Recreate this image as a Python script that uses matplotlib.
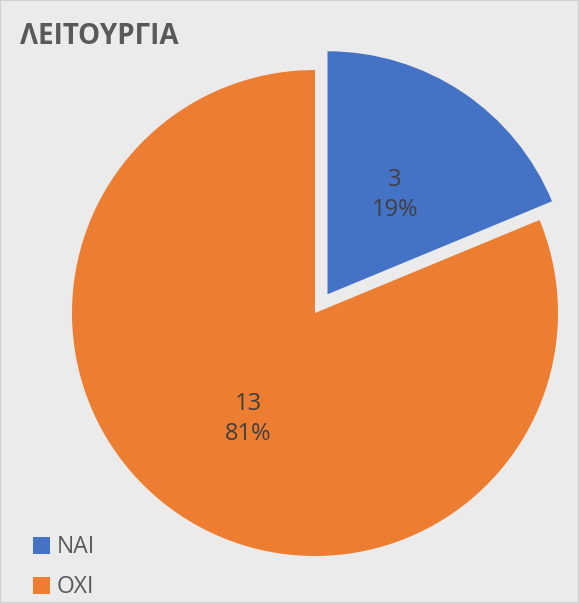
import matplotlib.pyplot as plt

# data
labels = ["ΝΑΙ", "ΟΧΙ"]
counts = [3, 13]
percents = ["19%", "81%"]
colors = ["#4472c4", "#ed7d31"]

plt.rcParams['font.family'] = ['Open Sans', 'DejaVu Sans']

W, H = 579, 603
fig = plt.figure(figsize=(W / 100, H / 100), dpi=100)
fig.patch.set_facecolor("#ebebeb")
ax = fig.add_axes([0, 0, 1, 1])

# explode is in data units here (1 unit = 1 px)
wedges, _ = ax.pie(counts, colors=colors, startangle=90, counterclock=False,
                   center=(315, H - 313), radius=243, explode=[22.5, 0],
                   frame=True, wedgeprops=dict(linewidth=0))
ax.set_xlim(0, W)
ax.set_ylim(0, H)
ax.set_aspect("equal")
ax.axis("off")

# data labels
txt_col = "#404040"
ax.text(395, H - 195, f"{counts[0]}\n{percents[0]}", ha="center", va="center",
        fontsize=17, color=txt_col, linespacing=1.38)
ax.text(248, H - 419, f"{counts[1]}\n{percents[1]}", ha="center", va="center",
        fontsize=17, color=txt_col, linespacing=1.38)

# title
fig.text(20 / W, 1 - 37 / H, "ΛΕΙΤΟΥΡΓΙΑ", ha="left", va="center",
         fontsize=20, fontweight="bold", color="#595959")

# legend
leg = fig.legend(wedges, labels, loc="lower left",
                 bbox_to_anchor=(12 / W, -17 / H), frameon=False,
                 fontsize=16.5, labelcolor="#595959", handlelength=0.75,
                 handleheight=0.75, handletextpad=0.3, labelspacing=0.7)

# thin frame round the picture
fig.add_artist(plt.Rectangle((0, 0), 1, 1, transform=fig.transFigure,
                             fill=False, edgecolor="#d0d0d0", linewidth=1.5))

fig.savefig("out.png", dpi=100, facecolor=fig.get_facecolor())
